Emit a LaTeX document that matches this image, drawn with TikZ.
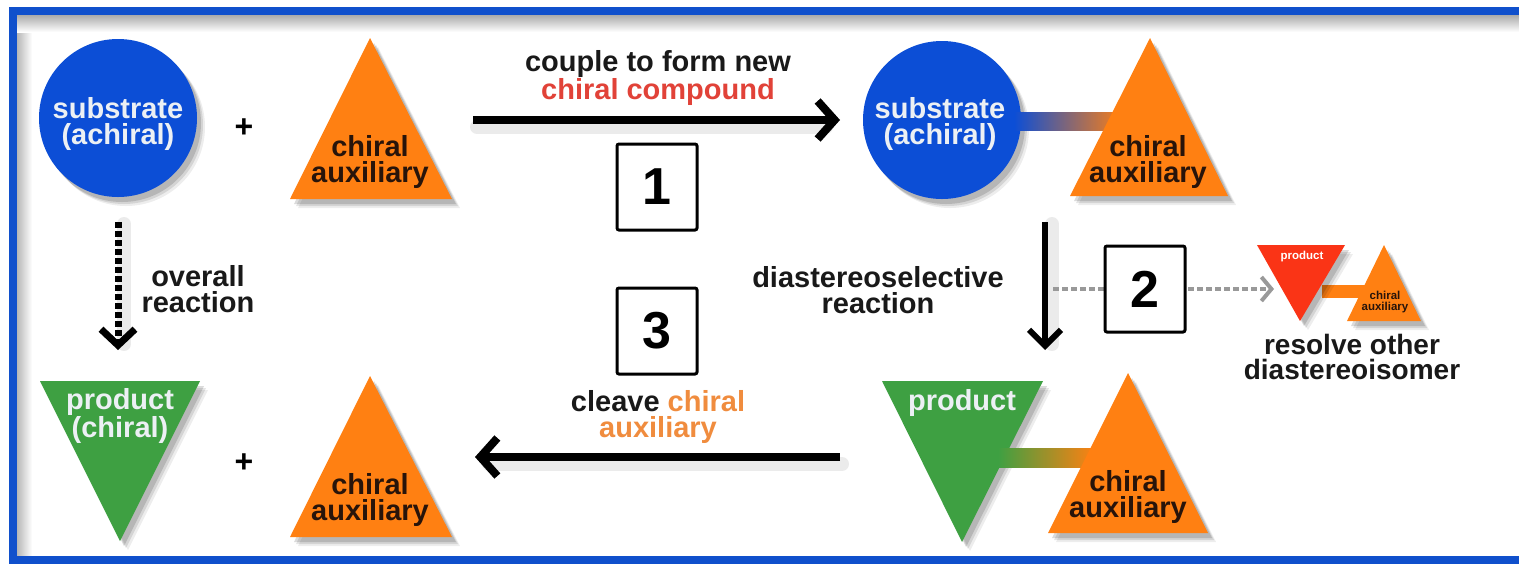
\documentclass[tikz,border=0pt]{standalone}
\usepackage{fontspec}
\setmainfont{Liberation Sans}
\usetikzlibrary{arrows.meta,shadows}
\definecolor{frameblue}{RGB}{16,80,204}
\definecolor{circblue}{RGB}{12,78,214}
\definecolor{auxorange}{RGB}{255,128,18}
\definecolor{prodgreen}{RGB}{62,160,66}
\definecolor{prodred}{RGB}{250,52,22}
\definecolor{redtext}{RGB}{225,66,56}
\definecolor{orangetext}{RGB}{240,140,62}
\definecolor{darktext}{RGB}{40,20,10}
\definecolor{lighttext}{RGB}{236,240,244}
\begin{document}
\begin{tikzpicture}[x=1pt,y=-1pt,
  lbl/.style={font=\bfseries\fontsize{29}{26.5}\selectfont, align=center, inner sep=0pt, text=black!90},
  inlbl/.style={lbl, text=lighttext},
  darklbl/.style={lbl, text=darktext},
  smalllbl/.style={font=\bfseries\fontsize{11.5}{11.5}\selectfont, align=center, inner sep=0pt},
  plus/.style={font=\bfseries\fontsize{32}{32}\selectfont, inner sep=0pt},
  numbox/.style={draw=black, line width=3pt, rounded corners=2pt, fill=white,
    minimum width=80pt, minimum height=86pt, inner sep=0pt,
    font=\bfseries\fontsize{52}{52}\selectfont},
  shd/.style={drop shadow={shadow xshift=8pt, shadow yshift=-9pt, opacity=0.07, fill=black},
              drop shadow={shadow xshift=6pt, shadow yshift=-7pt, opacity=0.1, fill=black},
              drop shadow={shadow xshift=4pt, shadow yshift=-5pt, opacity=0.14, fill=black}},
  subst/.style={circle, fill=circblue, minimum size=158pt, inner sep=0pt, shd},
  mainarrow/.style={line width=8pt, black, -{Straight Barb[length=17pt,width=38pt]}},
  downarrow/.style={line width=6pt, black, -{Straight Barb[length=16pt,width=32pt]}},
  dotarrow/.style={line width=7pt, black, dash pattern=on 6pt off 3pt, -{Straight Barb[length=16pt,width=34pt]}},
  grayarrow/.style={line width=4pt, black!40, dash pattern=on 6pt off 3pt, -{Straight Barb[length=10pt,width=24pt]}},
  arrshadow/.style={line width=14pt, black, opacity=0.08, line cap=round},
]
\clip (0,0) rectangle (1519,566);
\fill[white] (0,0) rectangle (1519,566);
% inner shadows of the frame
\shade[left color=black!30, right color=white] (16,14) rectangle (32,556);
\shade[top color=black!35, bottom color=white] (16,14) rectangle (1519,32);
% frame
\draw[frameblue, line width=8pt] (12.5,10.5) rectangle (1540,560);

% ---------- top left ----------
\node[subst] (c1) at (118,118) {};
\node[inlbl] (c1t) at (118,124) {substrate\\(achiral)};
\node[plus] (p1) at (244,128) {+};
\fill[auxorange, shd] (370,38) -- (452,199) -- (290,199) -- cycle;
\node[darklbl] (t1t) at (370,162) {chiral\\auxiliary};

% arrow 1
\coordinate (a1s) at (473,120);
\coordinate (a1e) at (840,120);
\draw[arrshadow] ([shift={(4,7)}]a1s) -- ([shift={(-14,7)}]a1e);
\draw[mainarrow] (a1s) -- (a1e);
\node[lbl] (a1t) at (658,78) {couple to form new\\\textcolor{redtext}{chiral compound}};
\node[numbox] (n1) at (657,187) {1};

% ---------- top right ----------
\node[subst] (c2) at (942,120) {};
\shade[left color=circblue, right color=auxorange] (1014,112) rectangle (1125,130);
\fill[auxorange, shd] (1150,38) -- (1228,196) -- (1070,196) -- cycle;
\node[inlbl] (c2t) at (940,124) {substrate\\(achiral)};
\node[darklbl] (t2t) at (1148,162) {chiral\\auxiliary};

% overall reaction
\coordinate (d1s) at (118,222);
\coordinate (d1e) at (118,350);
\draw[arrshadow] ([shift={(6,2)}]d1s) -- ([shift={(6,-6)}]d1e);
\draw[dotarrow] (d1s) -- (d1e);
\node[lbl] (ov) at (198,289) {overall\\reaction};

% diastereoselective
\coordinate (d2s) at (1045,222);
\coordinate (d2e) at (1045,350);
\draw[arrshadow] ([shift={(7,2)}]d2s) -- ([shift={(7,-6)}]d2e);
\draw[downarrow] (d2s) -- (d2e);
\node[lbl] (ds) at (878,290) {diastereoselective\\reaction};

% dashed to other diastereoisomer
\coordinate (g1s) at (1053,289);
\coordinate (g1e) at (1274,289);
\draw[grayarrow] (g1s) -- (g1e);
\node[numbox] (n2) at (1145,289) {2};

% small product + auxiliary
\fill[auxorange] (1322,285) rectangle (1370,298);
\fill[prodred, shd] (1257,245) -- (1345,245) -- (1300,321) -- cycle;
\fill[auxorange, shd] (1384,245) -- (1421,321) -- (1347,321) -- cycle;
\node[smalllbl, text=white] (sp) at (1302,257) {product};
\node[smalllbl, text=darktext] (sa) at (1385,302) {chiral\\auxiliary};
\node[lbl, font=\bfseries\fontsize{28}{25.5}\selectfont] (rs) at (1352,357) {resolve other\\diastereoisomer};

% ---------- bottom ----------
\node[numbox] (n3) at (657,331) {3};
\node[lbl] (cl) at (658,417) {cleave \textcolor{orangetext}{chiral}\\\textcolor{orangetext}{auxiliary}};
\coordinate (a3s) at (840,457);
\coordinate (a3e) at (475,457);
\draw[arrshadow] ([shift={(2,7)}]a3s) -- ([shift={(14,7)}]a3e);
\draw[mainarrow] (a3s) -- (a3e);

% bottom left
\fill[prodgreen, shd] (40,381) -- (200,381) -- (120,541) -- cycle;
\node[inlbl] (g1t) at (120,416) {product\\(chiral)};
\node[plus] (p2) at (244,463) {+};
\fill[auxorange, shd] (370,376) -- (452,537) -- (290,537) -- cycle;
\node[darklbl] (t3t) at (370,500) {chiral\\auxiliary};

% bottom right
\fill[prodgreen, shd] (882,381) -- (1043,381) -- (962,542) -- cycle;
\shade[left color=prodgreen, right color=auxorange] (998,448) rectangle (1095,467);
\fill[auxorange, shd] (1128,373) -- (1208,533) -- (1048,533) -- cycle;
\node[inlbl] (g2t) at (962,403) {product};
\node[darklbl] (t4t) at (1128,497) {chiral\\auxiliary};
\end{tikzpicture}
\end{document}
